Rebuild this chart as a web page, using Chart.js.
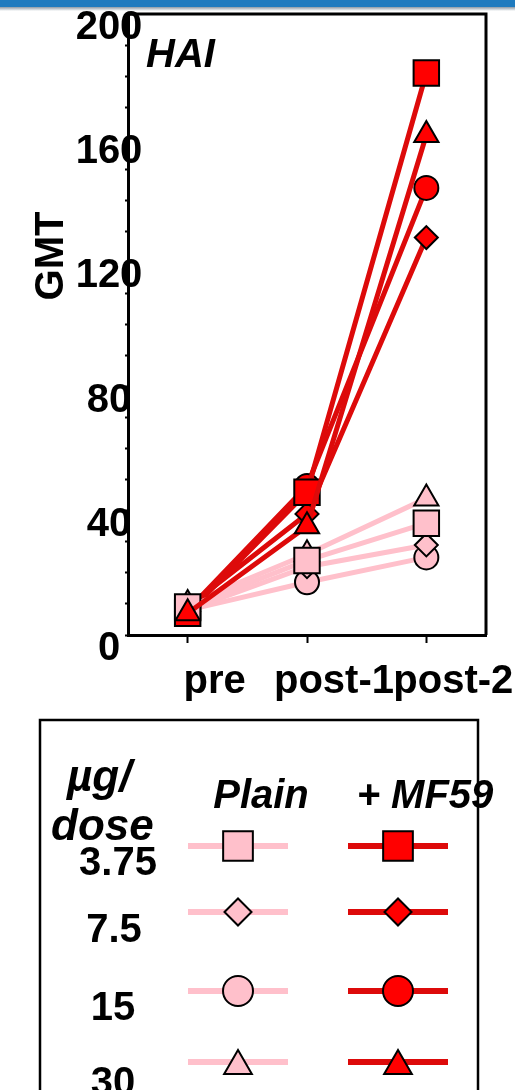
<!DOCTYPE html>
<html>
<head>
<meta charset="utf-8">
<title>HAI GMT</title>
<script src="https://cdn.jsdelivr.net/npm/chart.js@4.4.1/dist/chart.umd.min.js"></script>
<style>
  html, body { margin: 0; padding: 0; background: #fff; }
  #wrap { position: absolute; left: 0; top: 0; width: 515px; height: 1090px; }
  #topbar { position: absolute; left: 0; top: 0; width: 515px; height: 7px; background: #1f7bbf; }
  #topshade { position: absolute; left: 0; top: 7px; width: 515px; height: 4px; background: linear-gradient(#8d9aa6, #ffffff); }
</style>
</head>
<body>
<div id="wrap"><canvas id="gmtChart" width="515" height="1090"></canvas></div>
<div id="topbar"></div>
<div id="topshade"></div>
<script>
// === Data ===
const categories = ["pre", "post-1", "post-2"];
const doses = ["3.75", "7.5", "15", "30"];
const yTickLabels = [0, 40, 80, 120, 160, 200];

// plain vaccine, GMT per timepoint
const plain375 = [9, 24, 36];
const plain75 = [8, 22, 29];
const plain15 = [8, 17, 25];
const plain30 = [10, 26, 44];

// + MF59
const mf59_375 = [7, 46, 181];
const mf59_75 = [9, 39, 128];
const mf59_15 = [8, 48, 144];
const mf59_30 = [7, 35, 161];

const FONT = '"Liberation Sans", Arial, Helvetica, sans-serif';
const PINK = "#ffc0cb";
const RED_LINE = "#dd0a0a";
const RED_FILL = "#ff0000";

// marker look per dose (square, diamond, circle, triangle)
const markerStyles = ["rect", "rectRot", "circle", "triangle"];
const markerRadius = [18, 11.5, 12, 14];

function series(label, values, doseIdx, plain) {
  return {
    label: label,
    data: values,
    borderColor: plain ? PINK : RED_LINE,
    borderWidth: 5,
    tension: 0,
    fill: false,
    pointStyle: markerStyles[doseIdx],
    pointRadius: markerRadius[doseIdx],
    pointHoverRadius: markerRadius[doseIdx],
    pointBackgroundColor: plain ? PINK : RED_FILL,
    pointBorderColor: "#000",
    pointBorderWidth: 2
  };
}

// first dataset is drawn on top
const datasets = [
  series("MF59 30", mf59_30, 3, false),
  series("Plain 3.75", plain375, 0, true),
  series("MF59 3.75", mf59_375, 0, false),
  series("MF59 7.5", mf59_75, 1, false),
  series("MF59 15", mf59_15, 2, false),
  series("Plain 7.5", plain75, 1, true),
  series("Plain 30", plain30, 3, true),
  series("Plain 15", plain15, 2, true)
];

// legend rows (y of line), texts drawn around them
const legendRowY = [846, 912, 991, 1062];
const doseLabelPos = [[118, 875], [114, 942], [113, 1020], [113, 1095]];

function marker(ctx, style, r, x, y, fill) {
  ctx.fillStyle = fill;
  ctx.strokeStyle = "#000";
  ctx.lineWidth = 2;
  Chart.helpers.drawPoint(ctx, { pointStyle: style, radius: r, rotation: 0, borderWidth: 2 }, x, y);
}

const decor = {
  id: "decor",
  afterDraw(chart) {
    const ctx = chart.ctx;
    const a = chart.chartArea;
    const yScale = chart.scales.y;
    ctx.save();

    // plot frame (top + right)
    ctx.strokeStyle = "#000";
    ctx.lineWidth = 3;
    ctx.beginPath();
    ctx.moveTo(a.left, a.top);
    ctx.lineTo(a.right, a.top);
    ctx.lineTo(a.right, a.bottom);
    ctx.stroke();

    ctx.fillStyle = "#000";

    // y tick labels, overlapping the axis line like the original
    ctx.font = "bold 40px " + FONT;
    ctx.textAlign = "center";
    ctx.textBaseline = "middle";
    yTickLabels.forEach((v) => {
      ctx.fillText(String(v), 109, yScale.getPixelForValue(v) + 14);
    });

    ctx.textBaseline = "alphabetic";

    // HAI tag
    ctx.font = "italic bold 40px " + FONT;
    ctx.textAlign = "left";
    ctx.fillText("HAI", 146, 67);

    // GMT axis title
    ctx.save();
    ctx.translate(63, 256);
    ctx.rotate(-Math.PI / 2);
    ctx.font = "bold 40px " + FONT;
    ctx.textAlign = "center";
    ctx.fillText("GMT", 0, 0);
    ctx.restore();

    // legend box
    ctx.lineWidth = 2.5;
    ctx.strokeRect(40, 720, 438, 420);

    ctx.font = "italic bold 44px " + FONT;
    ctx.textAlign = "left";
    ctx.fillText("\u00b5g/", 67, 791);
    ctx.fillText("dose", 51, 840);
    ctx.font = "italic bold 40px " + FONT;
    ctx.textAlign = "center";
    ctx.fillText("Plain", 261, 808);
    ctx.fillText("+ MF59", 425, 808);

    ctx.font = "bold 40px " + FONT;
    doses.forEach((d, i) => {
      ctx.fillText(d, doseLabelPos[i][0], doseLabelPos[i][1]);
    });

    const legR = [21, 13.5, 15, 16];
    legendRowY.forEach((y, i) => {
      ctx.lineWidth = 6;
      ctx.strokeStyle = PINK;
      ctx.beginPath(); ctx.moveTo(188, y); ctx.lineTo(288, y); ctx.stroke();
      ctx.strokeStyle = RED_LINE;
      ctx.beginPath(); ctx.moveTo(348, y); ctx.lineTo(448, y); ctx.stroke();
      const dy = markerStyles[i] === "triangle" ? 4 : 0;
      marker(ctx, markerStyles[i], legR[i], 238, y + dy, PINK);
      marker(ctx, markerStyles[i], legR[i], 398, y + dy, RED_FILL);
    });

    ctx.restore();
  }
};

const ctx = document.getElementById("gmtChart").getContext("2d");
new Chart(ctx, {
  type: "line",
  data: { labels: categories, datasets: datasets },
  options: {
    responsive: false,
    animation: false,
    devicePixelRatio: 1,
    events: [],
    layout: { autoPadding: false, padding: { left: 48, right: 29, top: 14, bottom: 375 } },
    plugins: {
      legend: { display: false },
      tooltip: { enabled: false },
      title: { display: false }
    },
    scales: {
      x: {
        type: "category",
        offset: true,
        grid: { drawOnChartArea: false, offset: false, tickLength: 8, tickWidth: 2, tickColor: "#000" },
        border: { color: "#000", width: 3 },
        ticks: {
          color: "#000",
          font: { family: FONT, size: 40, weight: "bold" },
          padding: 15,
          labelOffset: 27,
          maxRotation: 0,
          autoSkip: false
        },
        afterFit(s) { s.height = 80; s.paddingLeft = 0; s.paddingRight = 0; }
      },
      y: {
        min: 0,
        max: 200,
        grid: { drawOnChartArea: false, tickLength: 3, tickWidth: 2, tickColor: "#000" },
        border: { color: "#000", width: 3 },
        ticks: {
          stepSize: 10,
          autoSkip: false,
          // labels are drawn by the decor plugin so they can cross the axis
          callback: () => ""
        },
        afterFit(s) { s.width = 80; s.paddingTop = 0; s.paddingBottom = 0; }
      }
    }
  },
  plugins: [decor]
});
</script>
</body>
</html>
